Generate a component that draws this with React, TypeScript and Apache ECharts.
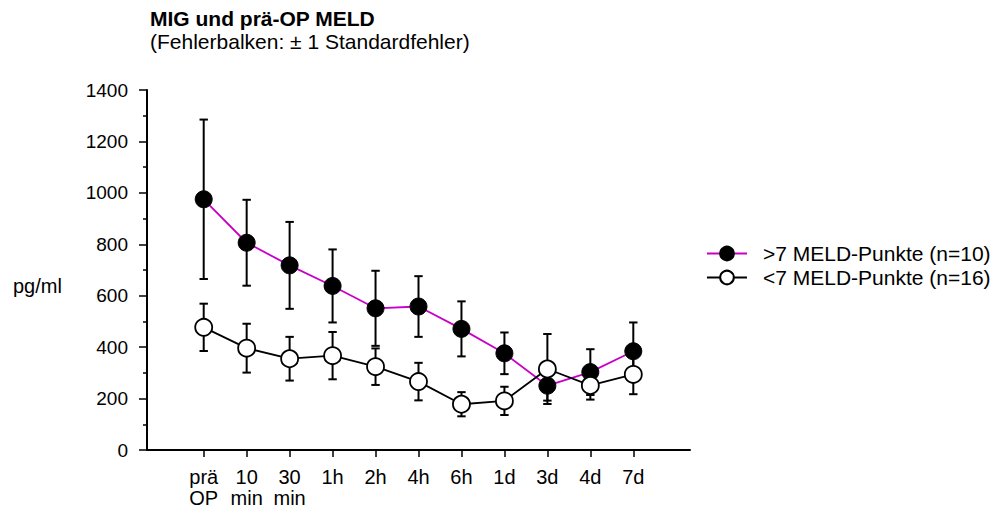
import React, { useEffect, useRef } from "react";
import * as echarts from "echarts";

const categories = ["prä\nOP", "10\nmin", "30\nmin", "1h", "2h", "4h", "6h", "1d", "3d", "4d", "7d"];
const highMean = [975, 806, 718, 638, 551, 558, 471, 376, 250, 303, 384];
const highSE = [310, 167, 169, 142, 146, 118, 107, 81, 58, 89, 112];
const lowMean = [477, 396, 355, 367, 324, 266, 178, 191, 315, 251, 294];
const lowSE = [92, 95, 85, 92, 71, 73, 47, 55, 136, 55, 77];
const yTicks = [0, 200, 400, 600, 800, 1000, 1200, 1400];

const highName = ">7 MELD-Punkte (n=10)";
const lowName = "<7 MELD-Punkte (n=16)";
const FONT = "'Liberation Sans', Arial, Helvetica, sans-serif";

export default function App() {
  const ref = useRef<HTMLDivElement>(null);
  useEffect(() => {
    if (!ref.current) return;
    const chart = echarts.init(ref.current, null, { renderer: "svg" });
    const idx = categories.map((_, i) => i);
    const errData = (m: number[], s: number[]) => m.map((v, i) => [i, v, s[i]]);
    const renderErr = (params: any, api: any) => {
      const x = api.value(0);
      const m = api.value(1);
      const s = api.value(2);
      const top = api.coord([x, m + s]);
      const bot = api.coord([x, m - s]);
      const cw = 4.2;
      const st = { stroke: "#000", lineWidth: 2 };
      return {
        type: "group",
        children: [
          { type: "line", shape: { x1: top[0], y1: top[1], x2: bot[0], y2: bot[1] }, style: st },
          { type: "line", shape: { x1: top[0] - cw, y1: top[1], x2: top[0] + cw, y2: top[1] }, style: st },
          { type: "line", shape: { x1: bot[0] - cw, y1: bot[1], x2: bot[0] + cw, y2: bot[1] }, style: st },
        ],
      };
    };
    chart.setOption({
      animation: false,
      textStyle: { fontFamily: FONT, color: "#000" },
      title: {
        text: "MIG und prä-OP MELD",
        subtext: "(Fehlerbalken: ± 1 Standardfehler)",
        left: 150,
        top: 8,
        itemGap: 2,
        padding: 0,
        textStyle: { fontFamily: FONT, fontSize: 21, fontWeight: "bold", color: "#000" },
        subtextStyle: { fontFamily: FONT, fontSize: 21, color: "#000" },
      },
      legend: {
        data: [highName, lowName],
        orient: "vertical",
        left: 706,
        top: 243,
        padding: 0,
        itemWidth: 40,
        itemHeight: 17,
        itemGap: 3,
        textStyle: { fontFamily: FONT, fontSize: 21, color: "#000", padding: [0, 0, 0, 11] },
      },
      graphic: [
        {
          type: "text",
          left: 13,
          top: 276,
          style: { text: "pg/ml", fontFamily: FONT, fontSize: 20, fill: "#000" },
        },
      ],
      grid: { left: 147, right: 313, top: 90, bottom: 58, outerBoundsMode: "none" },
      xAxis: {
        type: "value",
        min: -1.32,
        max: 11.32,
        splitLine: { show: false },
        axisLine: { show: true, lineStyle: { color: "#000", width: 2 } },
        axisTick: {
          show: true,
          customValues: idx,
          length: 7,
          lineStyle: { color: "#000", width: 1.5 },
        },
        axisLabel: {
          customValues: idx,
          formatter: (v: number) => categories[Math.round(v)] ?? "",
          fontFamily: FONT,
          fontSize: 20,
          lineHeight: 21,
          color: "#000",
          margin: 16,
          verticalAlign: "top",
        },
      },
      yAxis: {
        type: "value",
        min: yTicks[0],
        max: yTicks[yTicks.length - 1],
        interval: 200,
        splitLine: { show: false },
        axisLine: { show: true, onZero: false, lineStyle: { color: "#000", width: 2 } },
        axisTick: { show: true, length: 8, lineStyle: { color: "#000", width: 1.5 } },
        minorTick: { show: true, splitNumber: 2, length: 4, lineStyle: { color: "#000", width: 1.5 } },
        axisLabel: {
          fontFamily: FONT,
          fontSize: 19,
          color: "#000",
          margin: 19,
          formatter: (v: number) => String(v),
        },
      },
      series: [
        {
          name: "errHigh",
          type: "custom",
          renderItem: renderErr,
          data: errData(highMean, highSE),
          encode: { x: 0, y: 1 },
          z: 1,
          silent: true,
        },
        {
          name: "errLow",
          type: "custom",
          renderItem: renderErr,
          data: errData(lowMean, lowSE),
          encode: { x: 0, y: 1 },
          z: 1,
          silent: true,
        },
        {
          name: highName,
          type: "line",
          data: highMean.map((v, i) => [i, v]),
          symbol: "circle",
          symbolSize: 17,
          z: 3,
          lineStyle: { color: "#c800c8", width: 1.8 },
          itemStyle: { color: "#000", borderColor: "#000", borderWidth: 1 },
        },
        {
          name: lowName,
          type: "line",
          data: lowMean.map((v, i) => [i, v]),
          symbol: "circle",
          symbolSize: 17,
          z: 4,
          lineStyle: { color: "#000", width: 1.8 },
          itemStyle: { color: "#fff", borderColor: "#000", borderWidth: 1.8 },
        },
      ],
    });
    return () => chart.dispose();
  }, []);
  return (
    <div
      ref={ref}
      style={{ position: "absolute", left: 0, top: 0, width: 1003, height: 508, background: "#fff" }}
    />
  );
}
